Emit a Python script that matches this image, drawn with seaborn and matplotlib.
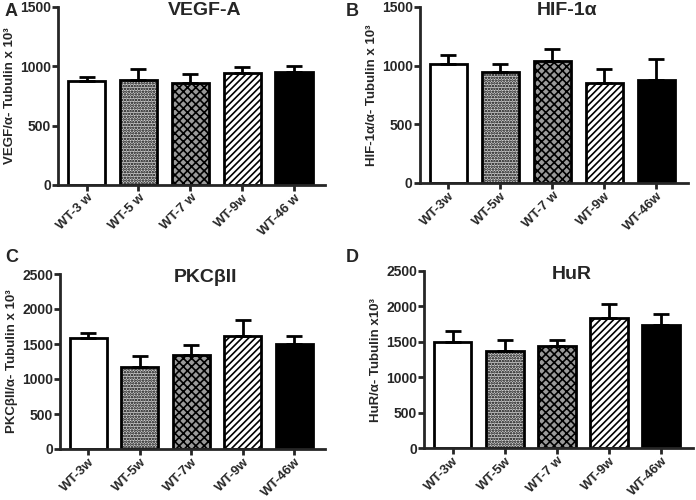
import matplotlib
matplotlib.use("Agg")
import matplotlib.pyplot as plt
import pandas as pd
import seaborn as sns

# values (bar top and top of error bar)
vegf_labels = ["WT-3 w", "WT-5 w", "WT-7 w", "WT-9w", "WT-46 w"]
vegf_mean = [873, 888, 859, 942, 954]
vegf_top = [914, 974, 934, 994, 1003]

hif_labels = ["WT-3w", "WT-5w", "WT-7 w", "WT-9w", "WT-46w"]
hif_mean = [1011, 949, 1037, 853, 878]
hif_top = [1091, 1011, 1139, 972, 1054]

pkc_labels = ["WT-3w", "WT-5w", "WT-7w", "WT-9w", "WT-46w"]
pkc_mean = [1579, 1174, 1345, 1617, 1503]
pkc_top = [1655, 1331, 1484, 1846, 1608]

hur_labels = ["WT-3w", "WT-5w", "WT-7 w", "WT-9w", "WT-46w"]
hur_mean = [1502, 1365, 1436, 1836, 1733]
hur_top = [1653, 1521, 1530, 2039, 1893]

fills = ["white", "#d0d0d0", "#9a9a9a", "white", "black"]
hatches = ["", "......", "xxxx", "/////", ""]

sns.set_style("ticks")
plt.rcParams['font.family'] = ['Liberation Sans', 'DejaVu Sans']
plt.rcParams['font.weight'] = 'bold'
plt.rcParams['hatch.linewidth'] = 1.2
plt.rcParams['hatch.color'] = 'black'


def draw(ax, labels, means, tops, ymax, title, ylabel, letter, lx, ly):
    df = pd.DataFrame({"group": labels, "value": means})
    sns.barplot(data=df, x="group", y="value", ax=ax, width=0.72, color="white",
                edgecolor="black", linewidth=2, saturation=1)
    for patch, fc, h in zip(ax.patches, fills, hatches):
        patch.set_facecolor(fc)
        patch.set_hatch(h)
    errs = [t - m for t, m in zip(tops, means)]
    ax.errorbar(range(len(means)), means, yerr=[[0] * len(means), errs], fmt="none",
                ecolor="black", elinewidth=2, capsize=6, capthick=2, zorder=3)
    ax.set_ylim(0, ymax)
    ax.set_yticks(range(0, ymax + 1, 500))
    ax.set_xlim(-0.55, 4.6)
    ax.set_xlabel("")
    ax.set_ylabel(ylabel, fontsize=9.5, fontweight="bold", labelpad=3)
    ax.set_xticks(range(len(labels)))
    ax.set_xticklabels(labels, rotation=45, ha="right", rotation_mode="anchor",
                       fontsize=9.5, fontweight="bold")
    for t in ax.get_yticklabels():
        t.set_fontsize(10)
        t.set_fontweight("bold")
    sns.despine(ax=ax)
    for s in ["left", "bottom"]:
        ax.spines[s].set_linewidth(2)
    ax.tick_params(axis="both", length=4, width=2, pad=1)
    ax.text(0.55, 0.98, title, transform=ax.transAxes, ha="center", va="center",
            fontsize=14, fontweight="bold")
    ax.figure.text(lx, ly, letter, fontsize=13, fontweight="bold", ha="left", va="center")


fig = plt.figure(figsize=(6.96, 5.0), dpi=100)
ax_a = fig.add_axes([0.0833, 0.63, 0.384, 0.356])
ax_b = fig.add_axes([0.603, 0.634, 0.385, 0.352])
ax_c = fig.add_axes([0.0862, 0.102, 0.381, 0.35])
ax_d = fig.add_axes([0.609, 0.104, 0.386, 0.354])

draw(ax_a, vegf_labels, vegf_mean, vegf_top, 1500, "VEGF-A",
     "VEGF/α- Tubulin x 10³", "A", 0.006, 0.978)
draw(ax_b, hif_labels, hif_mean, hif_top, 1500, "HIF-1α",
     "HIF-1α/α- Tubulin x 10³", "B", 0.497, 0.978)
draw(ax_c, pkc_labels, pkc_mean, pkc_top, 2500, "PKCβII",
     "PKCβII/α- Tubulin x 10³", "C", 0.008, 0.485)
draw(ax_d, hur_labels, hur_mean, hur_top, 2500, "HuR",
     "HuR/α- Tubulin x10³", "D", 0.497, 0.485)

fig.savefig("out.png", dpi=100, facecolor="white")
